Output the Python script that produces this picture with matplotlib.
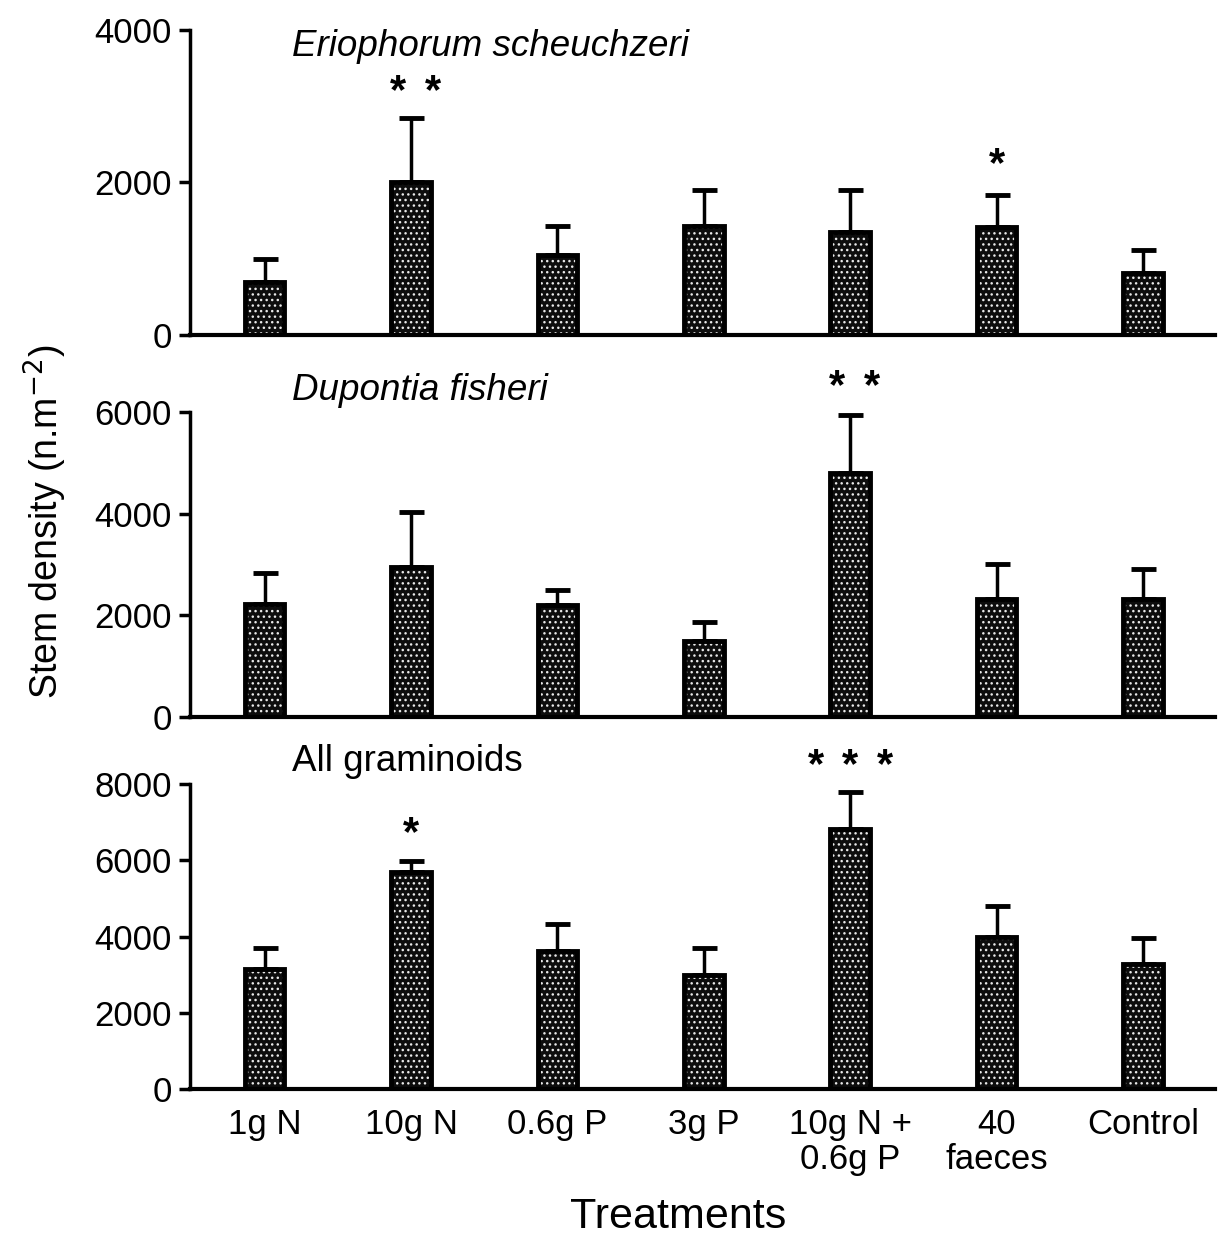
import matplotlib
matplotlib.use("Agg")
import matplotlib.pyplot as plt
import numpy as np

plt.rcParams['font.family'] = ['Liberation Sans', 'DejaVu Sans']
plt.rcParams['hatch.linewidth'] = 1.0

treatments = ["1g N", "10g N", "0.6g P", "3g P", "10g N +\n0.6g P", "40\nfaeces", "Control"]

# Eriophorum scheuchzeri
erio_mean = [700, 2000, 1050, 1430, 1350, 1410, 810]
erio_err_top = [1000, 2850, 1430, 1900, 1900, 1830, 1120]
# Dupontia fisheri
dup_mean = [2220, 2950, 2200, 1490, 4800, 2320, 2320]
dup_err_top = [2830, 4030, 2500, 1860, 5940, 3010, 2920]
# All graminoids
all_mean = [3150, 5690, 3630, 3000, 6810, 3990, 3290]
all_err_top = [3700, 5980, 4330, 3690, 7790, 4800, 3970]

panels = [
    ("Eriophorum scheuchzeri", "italic", 0.945, erio_mean, erio_err_top, 4000, [0, 2000, 4000],
     [(2, 1, 3190, 0.03), (1, 5, 2230, 0.0)]),
    ("Dupontia fisheri", "italic", 1.07, dup_mean, dup_err_top, 6000, [0, 2000, 4000, 6000],
     [(2, 4, 6490, 0.03)]),
    ("All graminoids", "normal", 1.075, all_mean, all_err_top, 8000, [0, 2000, 4000, 6000, 8000],
     [(1, 1, 6700, 0.0), (3, 4, 8470, 0.0)]),
]

fig = plt.figure(figsize=(12.22, 12.37), dpi=100)
left, width, height = 0.1555, 0.8385, 0.2466
bottoms = [0.7292, 0.4204, 0.1196]
x = np.arange(len(treatments))

for i, (title, style, ty, mean, err_top, ymax, ticks, stars) in enumerate(panels):
    ax = fig.add_axes([left, bottoms[i], width, height])
    mean = np.array(mean)
    err = np.array(err_top) - mean
    ax.errorbar(x, mean, yerr=[np.zeros_like(err), err], fmt='none', ecolor='black',
                elinewidth=2.5, capsize=9, capthick=3.5, clip_on=False, zorder=1)
    ax.bar(x, mean, width=0.27, color='#0d0d0d', edgecolor='#e8e8e8', hatch='...',
           linewidth=0, zorder=2)
    ax.bar(x, mean, width=0.27, fill=False, edgecolor='black', linewidth=3.5, zorder=3)
    ax.set_xlim(-0.51, 6.49)
    ax.set_ylim(0, ymax)
    ax.set_yticks(ticks)
    ax.tick_params(axis='y', labelsize=25, width=2.5, length=8, pad=5)
    ax.spines['top'].set_visible(False)
    ax.spines['right'].set_visible(False)
    ax.spines['left'].set_linewidth(2.5)
    ax.spines['bottom'].set_linewidth(3)
    ax.text(0.1, ty, title, transform=ax.transAxes, fontsize=26.5, style=style,
            ha='left', va='center')
    for n, xi, yv, dx in stars:
        for k in range(n):
            ax.text(xi + dx + (k - (n - 1) / 2) * 0.235, yv, "*", fontsize=30,
                    fontweight='bold', ha='center', va='center', clip_on=False)
    if i < 2:
        ax.set_xticks([])
    else:
        ax.set_xticks(x)
        ax.set_xticklabels(treatments, fontsize=25, va='top', linespacing=1.05)
        ax.tick_params(axis='x', length=0, pad=14)

fig.text(0.037, 0.578, "Stem density (n.m$^{-2}$)", rotation=90, fontsize=27,
         ha='center', va='center')
fig.text(0.555, 0.007, "Treatments", fontsize=31, ha='center', va='baseline')

fig.savefig("out.png", dpi=100)
